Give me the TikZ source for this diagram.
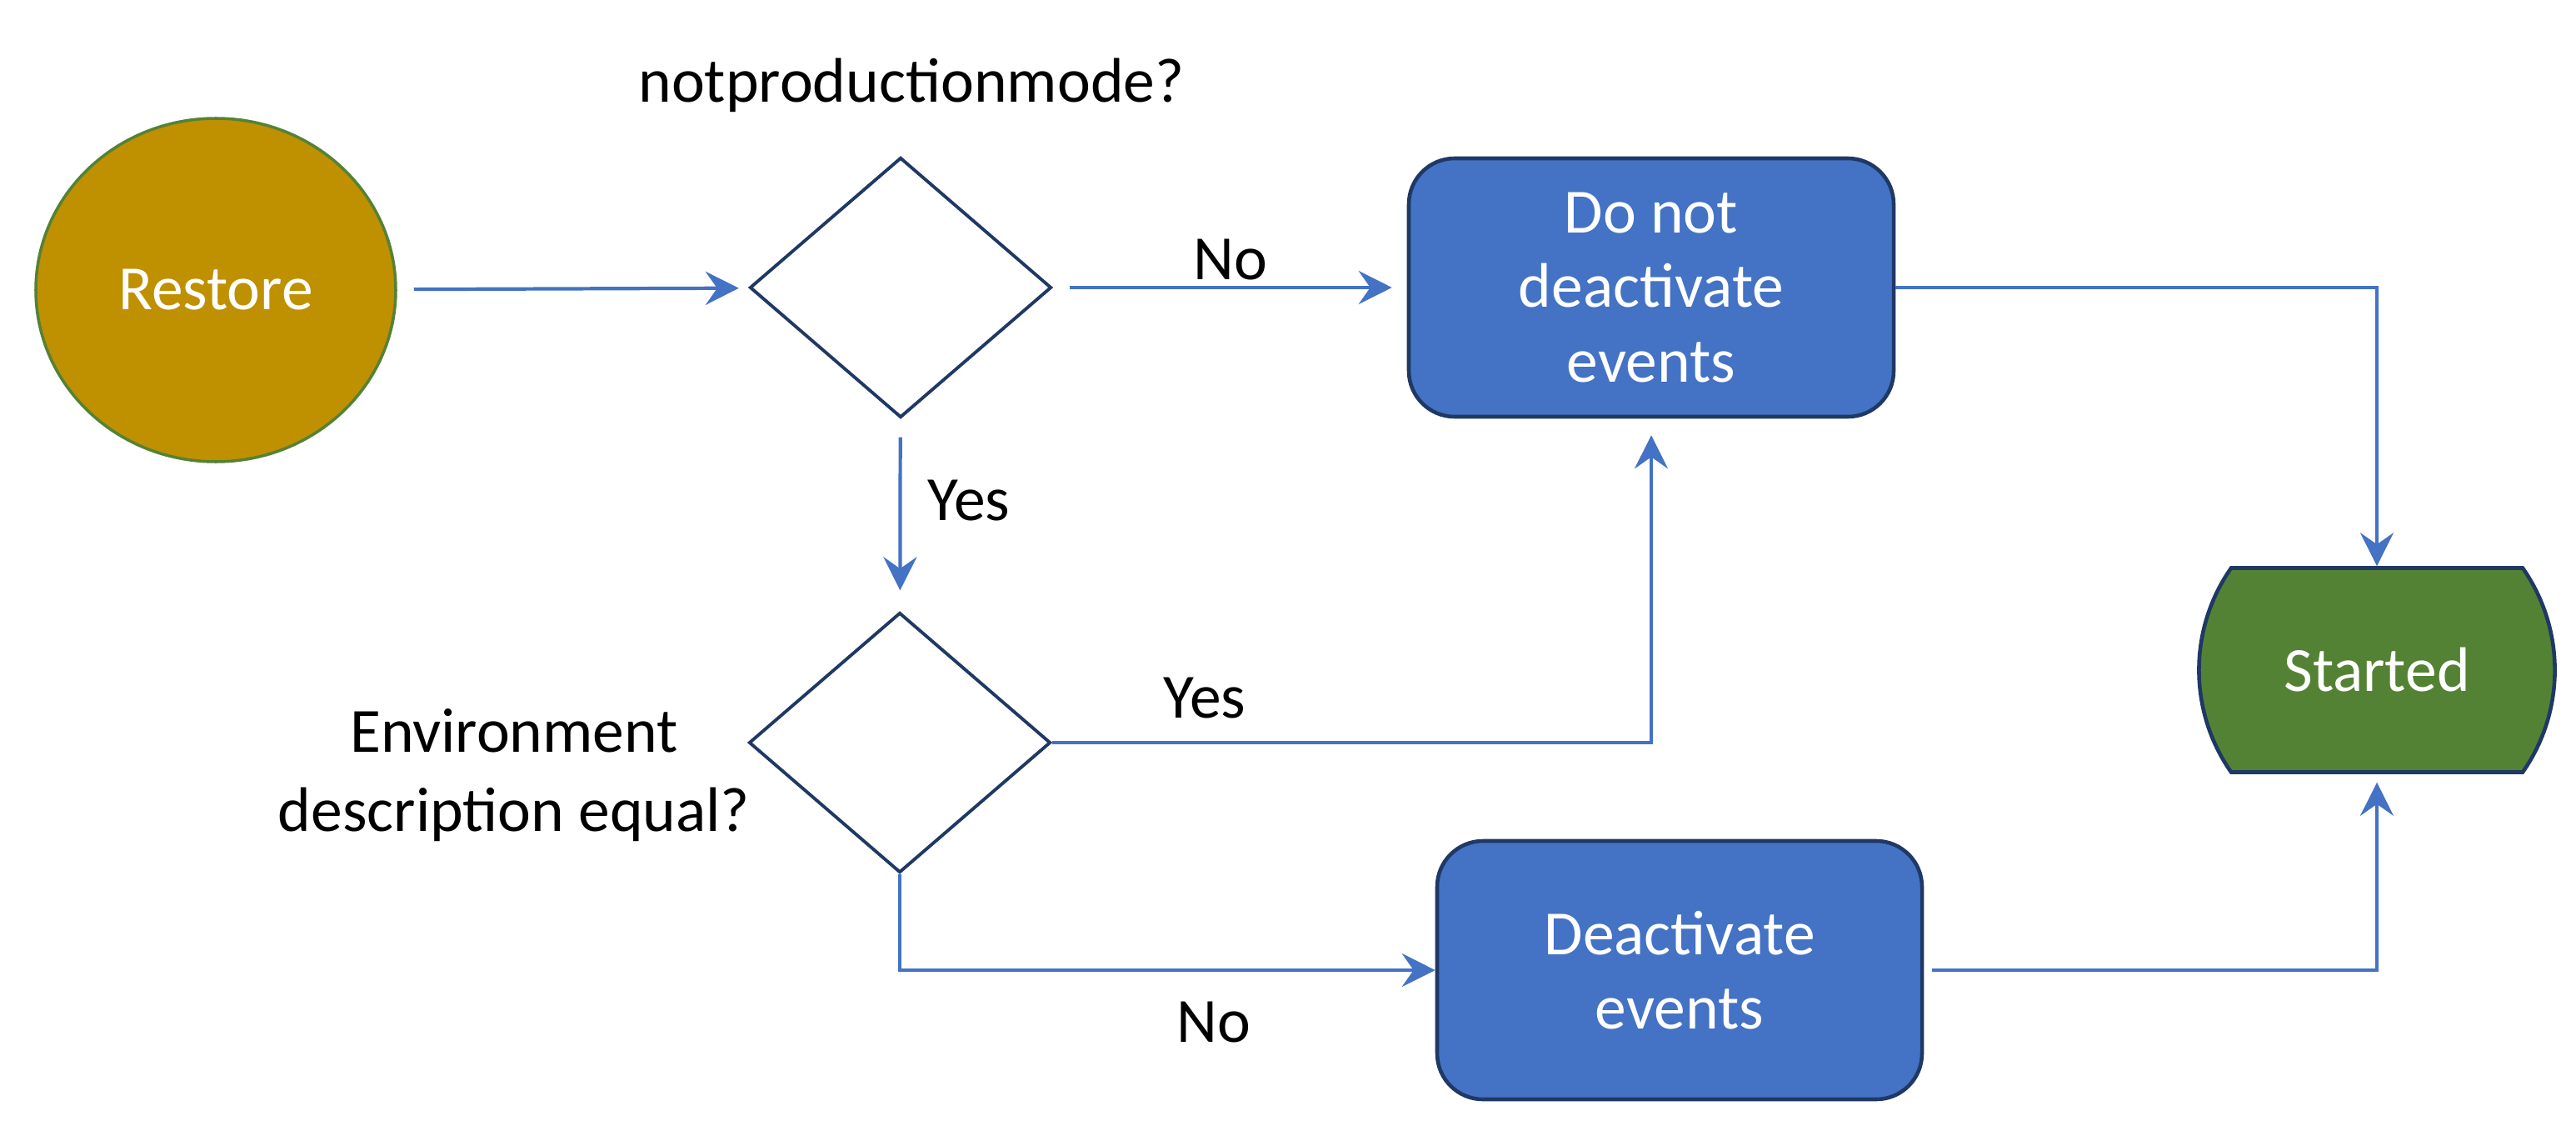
\documentclass[tikz,border=0pt]{standalone}
\usepackage{fontspec}
\setmainfont{Carlito}
\usetikzlibrary{shapes.geometric,shapes.misc,arrows.meta}
\definecolor{boxblue}{HTML}{4472C4}
\definecolor{navy}{HTML}{1F3864}
\definecolor{gold}{HTML}{BF9000}
\definecolor{leaf}{HTML}{548235}
\begin{document}
\begin{tikzpicture}[
    font=\fontsize{21.5}{25.5}\selectfont,
    action/.style={rectangle, rounded corners=0.55cm, draw=navy, line width=1.3pt, fill=boxblue, text=white,
      minimum width=5.82cm, minimum height=3.1cm, align=center},
    test/.style={diamond, draw=navy, line width=1.1pt, minimum width=3.62cm, minimum height=3.12cm, inner sep=0pt},
    flow/.style={draw=boxblue, line width=1.2pt, -{Stealth[length=0.4cm,width=0.4cm,inset=0.14cm]}},
  ]
  \useasboundingbox (0,0) rectangle (30.92,13.44);

  % shapes
  \node[ellipse, draw=leaf, line width=1pt, fill=gold, text=white, minimum width=4.32cm, minimum height=4.12cm, inner sep=0pt] (restore) at (2.59,9.96) {Restore};
  \node[test] (q1) at (10.81,9.99) {};
  \node[test] (q2) at (10.80,4.53) {};
  \node[action] (keep) at (19.82,9.99) {Do not\\deactivate\\events};
  \node[action] (deact) at (20.16,1.80) {Deactivate\\events};
  \node[rounded rectangle, rounded rectangle arc length=70, draw=navy, line width=1.3pt, fill=leaf, text=white,
    minimum width=4.25cm, minimum height=2.45cm] (started) at (28.53,5.40) {Started};

  % texts
  \node (lq1) at (10.94,12.42) {notproductionmode?};
  \node[align=center, font=\fontsize{21.5}{27}\selectfont] (lq2) at (6.17,4.14) {Environment\\description equal?};
  \node (lno1) at (14.77,10.32) {No};
  \node (lyes1) at (11.63,7.43) {Yes};
  \node (lyes2) at (14.46,5.06) {Yes};
  \node (lno2) at (14.57,1.17) {No};

  % connectors
  \draw[flow, shorten <=0.2cm, shorten >=0.12cm] (restore) -- (q1);
  \draw[flow, shorten <=0.2cm, shorten >=0.18cm] (q1) -- (keep);
  \draw[flow, shorten <=0.22cm, shorten >=0.25cm] (q1) -- (q2);
  \draw[flow, shorten >=0.2cm] (q2.east) -| (keep.south);
  \draw[flow] (q2.south) |- (deact.west);
  \draw[flow] (keep.east) -| (started.north);
  \draw[flow, shorten <=0.1cm, shorten >=0.1cm] (deact.east) -| (started.south);
\end{tikzpicture}
\end{document}
